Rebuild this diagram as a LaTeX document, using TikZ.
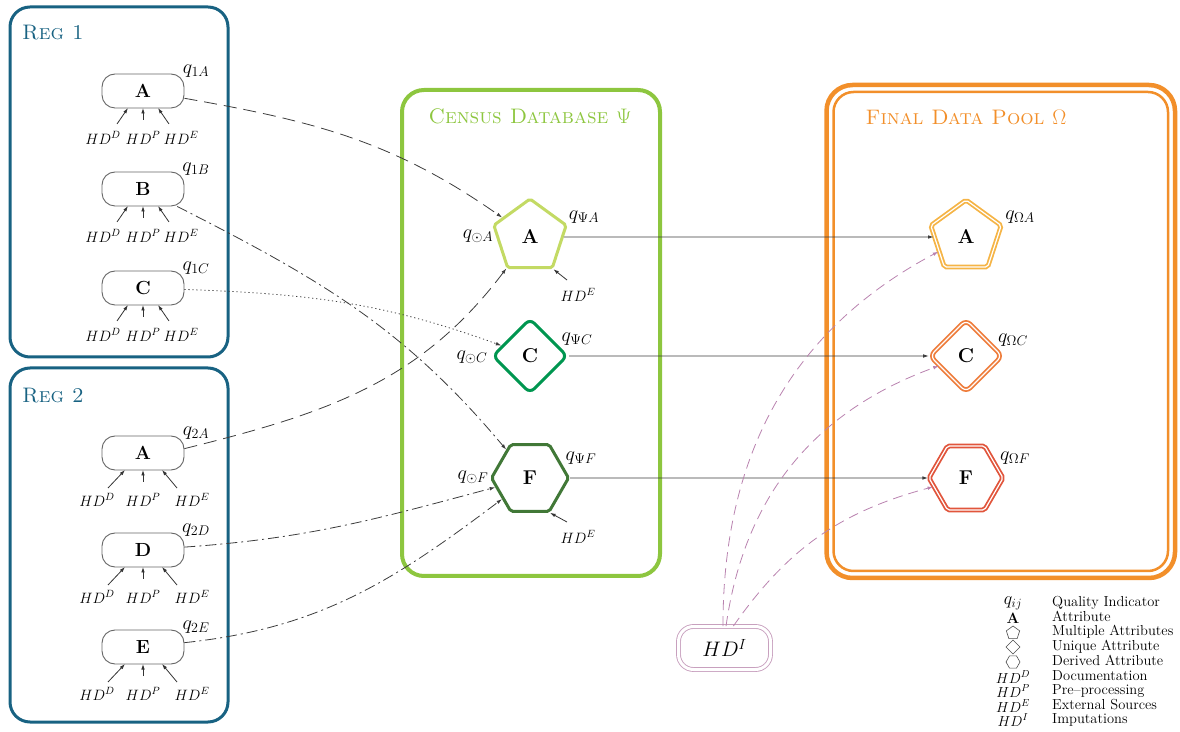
\RequirePackage{fix-cm}
\documentclass[tikz,border=0pt]{standalone}
\usetikzlibrary{shapes.geometric,arrows.meta,calc}
\definecolor{regblue}{RGB}{24,98,130}
\definecolor{censusgreen}{RGB}{141,198,63}
\definecolor{psiA}{RGB}{195,218,100}
\definecolor{psiC}{RGB}{0,150,80}
\definecolor{psiF}{RGB}{65,120,55}
\definecolor{poolorange}{RGB}{242,143,42}
\definecolor{omA}{RGB}{245,180,70}
\definecolor{omC}{RGB}{238,125,60}
\definecolor{omF}{RGB}{225,85,60}
\definecolor{hdiborder}{RGB}{200,160,190}
\definecolor{hdidash}{RGB}{185,130,175}
\definecolor{conn}{RGB}{60,60,60}
\begin{document}
\begin{tikzpicture}[x=1pt,y=1pt,
  tip/.style={-{Latex[length=5.5pt,width=3.6pt]}},
  regbox/.style={draw=regblue, line width=3pt, rounded corners=20pt},
  attr/.style={draw=black!60, line width=0.9pt, rounded corners=13pt, minimum width=82pt, minimum height=34pt, inner sep=0pt, font=\fontsize{19}{19}\selectfont\bfseries},
  qlab/.style={font=\fontsize{20}{20}\selectfont, inner sep=0pt},
  hdlab/.style={font=\fontsize{15}{15}\selectfont, inner sep=0pt},
  hdarrow/.style={tip, line width=0.8pt, draw=black!80},
  boxtitle/.style={font=\fontsize{21}{21}\selectfont\scshape, inner sep=0pt},
  polybase/.style={regular polygon, inner sep=0pt, font=\fontsize{20}{20}\selectfont\bfseries},
  pent/.style={polybase, regular polygon sides=5, minimum size=76pt, rounded corners=2pt},
  diam/.style={polybase, regular polygon sides=4, shape border rotate=45, minimum size=74pt, rounded corners=6pt},
  hexa/.style={polybase, regular polygon sides=6, minimum size=77pt, rounded corners=2pt},
  psinode/.style={line width=3pt, draw=#1},
  omnode/.style={draw=#1, double=white, double distance=1.2pt, line width=1.8pt},
  connector/.style={tip, line width=0.8pt, draw=conn},
  longdash/.style={connector, dash pattern=on 13pt off 7pt},
  dashdot/.style={connector, dash pattern=on 11pt off 4pt on 2pt off 4pt},
  dotline/.style={connector, dash pattern=on 1.2pt off 2.8pt},
  flowline/.style={connector},
  hdiline/.style={tip, line width=0.8pt, draw=hdidash, dash pattern=on 10pt off 6pt},
  legsym/.style={inner sep=0pt},
  legtext/.style={anchor=west, inner sep=0pt, font=\fontsize{14.5}{14.5}\selectfont, text height=9.5pt, text depth=3pt},
  legshape/.style={regular polygon, draw=black!70, line width=0.6pt, inner sep=0pt, minimum size=14pt}
]
\useasboundingbox (0,0) rectangle (1180,731);

% ---------- Reg boxes ----------
\draw[regbox] (10,724) rectangle (228,374);
\draw[regbox] (10,363) rectangle (228,9);
\node[boxtitle, text=regblue, anchor=west] (t1) at (22,698) {Reg 1};
\node[boxtitle, text=regblue, anchor=west] (t2) at (22,335) {Reg 2};

\node[attr] (r1a) at (143,640) {A};
\node[attr] (r1b) at (143,542) {B};
\node[attr] (r1c) at (143,443) {C};
\node[attr] (r2a) at (143,278) {A};
\node[attr] (r2d) at (143,181) {D};
\node[attr] (r2e) at (143,84) {E};

\foreach \n/\s in {r1a/1A, r1b/1B, r1c/1C, r2a/2A, r2d/2D, r2e/2E}{
  \node[qlab] (\n-q) at ($(\n)+(53,20)$) {$q_{\s}$};
}
\foreach \n in {r1a, r1b, r1c}{
  \node[hdlab] (\n-d) at ($(\n)+(-40,-47)$) {$HD^D$};
  \node[hdlab] (\n-p) at ($(\n)+(0,-47)$) {$HD^P$};
  \node[hdlab] (\n-e) at ($(\n)+(38,-47)$) {$HD^E$};
  \draw[hdarrow] ($(\n)+(-26,-33)$) -- ($(\n)+(-15,-17)$);
  \draw[hdarrow] ($(\n)+(0,-29)$) -- ($(\n)+(0,-17)$);
  \draw[hdarrow] ($(\n)+(26,-33)$) -- ($(\n)+(15,-17)$);
}
\foreach \n in {r2a, r2d, r2e}{
  \node[hdlab] (\n-d) at ($(\n)+(-46,-47)$) {$HD^D$};
  \node[hdlab] (\n-p) at ($(\n)+(0,-47)$) {$HD^P$};
  \node[hdlab] (\n-e) at ($(\n)+(49,-47)$) {$HD^E$};
  \draw[hdarrow] ($(\n)+(-35,-35)$) -- ($(\n)+(-18,-17)$);
  \draw[hdarrow] ($(\n)+(0,-29)$) -- ($(\n)+(0,-17)$);
  \draw[hdarrow] ($(\n)+(34,-35)$) -- ($(\n)+(19,-17)$);
}

% ---------- Census database ----------
\draw[draw=censusgreen, line width=4pt, rounded corners=22pt] (402,641) rectangle (660,155);
\node[boxtitle, text=censusgreen] (tc) at (530,615) {Census Database $\Psi$};

\node[pent, psinode=psiA] (pA) at (530,494) {A};
\node[diam, psinode=psiC] (pC) at (530,375) {C};
\node[hexa, psinode=psiF] (pF) at (530,253) {F};

\node[qlab] (pA-o) at (478,495) {$q_{\odot A}$};
\node[qlab] (pA-q) at (584,514) {$q_{\Psi A}$};
\node[qlab] (pC-o) at (472,374) {$q_{\odot C}$};
\node[qlab] (pC-q) at (577,392) {$q_{\Psi C}$};
\node[qlab] (pF-o) at (473,254) {$q_{\odot F}$};
\node[qlab] (pF-q) at (581,273) {$q_{\Psi F}$};
\node[hdlab] (pA-e) at (578,436) {$HD^E$};
\node[hdlab] (pF-e) at (578,194) {$HD^E$};
\draw[hdarrow] ($(pA-e)+(-11,15)$) -- (pA.-54);
\draw[hdarrow] ($(pF-e)+(-11,15)$) -- (pF.-60);

% ---------- Final data pool ----------
\draw[draw=poolorange, line width=4.5pt, rounded corners=26pt] (826.5,646) rectangle (1175,153);
\draw[draw=poolorange, line width=2.5pt, rounded corners=20pt] (833.5,639) rectangle (1168,160);
\node[boxtitle, text=poolorange] (tf) at (966,614) {Final Data Pool $\Omega$};

\node[pent, minimum size=74pt, omnode=omA] (oA) at (966,494) {A};
\node[diam, minimum size=72pt, omnode=omC] (oC) at (966,375) {C};
\node[hexa, minimum size=74pt, omnode=omF] (oF) at (966,253) {F};

\node[qlab] (oA-q) at (1020,514) {$q_{\Omega A}$};
\node[qlab] (oC-q) at (1013,391) {$q_{\Omega C}$};
\node[qlab] (oF-q) at (1015,273) {$q_{\Omega F}$};

% ---------- HD^I ----------
\node[draw=hdiborder, double=white, double distance=3pt, line width=0.9pt, rounded corners=15pt,
      minimum width=92pt, minimum height=43pt, font=\fontsize{21}{21}\selectfont] (hdi) at (724.5,83) {$HD^I$};

% ---------- connectors ----------
\draw[longdash] (r1a) to[out=-10, in=145] (pA);
\draw[dashdot]  (r1b) to[out=-27, in=130] (pF);
\draw[dotline]  (r1c) to[out=-2, in=160] (pC);
\draw[longdash] (r2a.6) to[out=14, in=-127] (pA);
\draw[dashdot]  (r2d) to[out=4, in=195] (pF);
\draw[dashdot]  (r2e) to[out=6, in=-143] (pF);

\draw[flowline] (pA) -- (oA);
\draw[flowline] (pC) -- (oC);
\draw[flowline] (pF) -- (oF);

\draw[hdiline] (hdi.94) to[out=90, in=-152] (oA);
\draw[hdiline] (hdi.86) to[out=82, in=-160] (oC);
\draw[hdiline] (hdi.68) to[out=55, in=-165] (oF);

% ---------- legend ----------
\node[legsym, font=\fontsize{18}{18}\selectfont] (l1) at (1013,128) {$q_{ij}$};
\node[legsym, font=\fontsize{15}{15}\selectfont\bfseries] (l2) at (1013,113) {A};
\node[legshape, regular polygon sides=5] (l3) at (1013,98) {};
\node[legshape, regular polygon sides=4, shape border rotate=45] (l4) at (1013,84) {};
\node[legshape, regular polygon sides=6] (l5) at (1013,69) {};
\node[legsym, font=\fontsize{14.5}{14.5}\selectfont] (l6) at (1013,54) {$HD^D$};
\node[legsym, font=\fontsize{14.5}{14.5}\selectfont] (l7) at (1013,40) {$HD^P$};
\node[legsym, font=\fontsize{14.5}{14.5}\selectfont] (l8) at (1013,25) {$HD^E$};
\node[legsym, font=\fontsize{14.5}{14.5}\selectfont] (l9) at (1013,11) {$HD^I$};

\node[legtext] (m1) at (1052,128) {Quality Indicator};
\node[legtext] (m2) at (1052,113) {Attribute};
\node[legtext] (m3) at (1052,99) {Multiple Attributes};
\node[legtext] (m4) at (1052,84) {Unique Attribute};
\node[legtext] (m5) at (1052,69) {Derived Attribute};
\node[legtext] (m6) at (1052,54) {Documentation};
\node[legtext] (m7) at (1052,40) {Pre--processing};
\node[legtext] (m8) at (1052,25) {External Sources};
\node[legtext] (m9) at (1052,11) {Imputations};
\end{tikzpicture}
\end{document}
